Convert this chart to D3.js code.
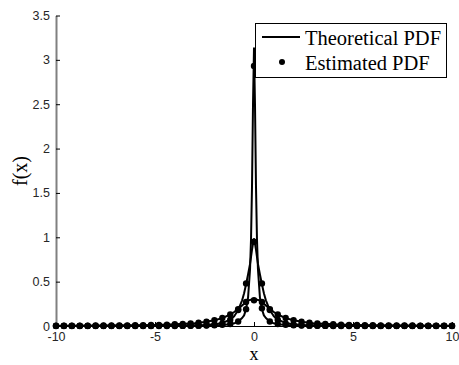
<!DOCTYPE html>
<meta charset="utf-8" />
<style>
  body { margin: 0; background: #fff; }
  .tick text { font: 12.5px "Liberation Sans", Arial, sans-serif; fill: #262626; }
  .lbl { font-family: "Liberation Serif", "Times New Roman", serif; }
</style>
<body>
<script src="https://d3js.org/d3.v7.min.js"></script>
<script>
  // theoretical curves, sampled densely near the centre
  var theoX = [-10, -8, -6, -5, -4, -3.5, -3, -2.5, -2, -1.6, -1.2, -1, -0.8, -0.6, -0.5, -0.4, -0.3, -0.2, -0.15, -0.1, -0.05,
    0, 0.05, 0.1, 0.15, 0.2, 0.3, 0.4, 0.5, 0.6, 0.8, 1, 1.2, 1.6, 2, 2.5, 3, 3.5, 4, 5, 6, 8, 10];
  var theoNarrow = [0.0003, 0.0005, 0.001, 0.001, 0.002, 0.003, 0.004, 0.005, 0.008, 0.012, 0.02, 0.03, 0.05, 0.09, 0.12, 0.19, 0.32, 0.64, 0.98, 1.58, 2.5,
    3.13, 2.5, 1.58, 0.98, 0.64, 0.32, 0.19, 0.12, 0.09, 0.05, 0.03, 0.02, 0.012, 0.008, 0.005, 0.004, 0.003, 0.002, 0.001, 0.001, 0.0005, 0.0003];
  var theoMid = [0.001, 0.001, 0.002, 0.003, 0.005, 0.006, 0.008, 0.012, 0.02, 0.035, 0.07, 0.11, 0.18, 0.29, 0.37, 0.47, 0.58, 0.7, 0.78, 0.86, 0.93,
    0.98, 0.93, 0.86, 0.78, 0.7, 0.58, 0.47, 0.37, 0.29, 0.18, 0.11, 0.07, 0.035, 0.02, 0.012, 0.008, 0.006, 0.005, 0.003, 0.002, 0.001, 0.001];
  var theoWide = [0.003, 0.005, 0.009, 0.012, 0.019, 0.024, 0.032, 0.044, 0.064, 0.089, 0.13, 0.158, 0.193, 0.232, 0.252, 0.27, 0.286, 0.294, 0.297, 0.299, 0.3,
    0.3, 0.3, 0.299, 0.297, 0.294, 0.286, 0.27, 0.252, 0.232, 0.193, 0.158, 0.13, 0.089, 0.064, 0.044, 0.032, 0.024, 0.019, 0.012, 0.009, 0.005, 0.003];

  // estimated pdf points, every 0.4
  var estX = [-10, -9.6, -9.2, -8.8, -8.4, -8, -7.6, -7.2, -6.8, -6.4, -6, -5.6, -5.2, -4.8, -4.4, -4, -3.6, -3.2, -2.8, -2.4, -2, -1.6, -1.2, -0.8, -0.4,
    0, 0.4, 0.8, 1.2, 1.6, 2, 2.4, 2.8, 3.2, 3.6, 4, 4.4, 4.8, 5.2, 5.6, 6, 6.4, 6.8, 7.2, 7.6, 8, 8.4, 8.8, 9.2, 9.6, 10];
  var estNarrow = [0.001, 0.001, 0.001, 0.001, 0.001, 0.001, 0.001, 0.001, 0.001, 0.001, 0.001, 0.001, 0.001, 0.002, 0.002, 0.002, 0.003, 0.003, 0.004, 0.006, 0.008, 0.013, 0.022, 0.05, 0.19,
    2.93, 0.2, 0.05, 0.022, 0.013, 0.008, 0.006, 0.004, 0.003, 0.003, 0.002, 0.002, 0.002, 0.001, 0.001, 0.001, 0.001, 0.001, 0.001, 0.001, 0.001, 0.001, 0.001, 0.001, 0.001, 0.001];
  var estMid = [0, 0, 0, 0, 0, 0, 0, 0, 0, 0, 0, 0, 0, 0, 0, 0, 0.001, 0.002, 0.004, 0.008, 0.015, 0.03, 0.07, 0.18, 0.48,
    0.95, 0.48, 0.18, 0.07, 0.03, 0.015, 0.008, 0.004, 0.002, 0.001, 0, 0, 0, 0, 0, 0, 0, 0, 0, 0, 0, 0, 0, 0, 0, 0];
  var estWide = [0.003, 0.003, 0.004, 0.004, 0.004, 0.005, 0.005, 0.006, 0.007, 0.007, 0.009, 0.01, 0.011, 0.013, 0.016, 0.019, 0.023, 0.028, 0.036, 0.048, 0.064, 0.09, 0.13, 0.19, 0.27,
    0.29, 0.27, 0.19, 0.13, 0.09, 0.064, 0.048, 0.036, 0.028, 0.023, 0.019, 0.016, 0.013, 0.011, 0.01, 0.009, 0.007, 0.007, 0.006, 0.005, 0.005, 0.004, 0.004, 0.004, 0.003, 0.003];

  var xTicks = [-10, -5, 0, 5, 10];
  var yTicks = [0, 0.5, 1, 1.5, 2, 2.5, 3, 3.5];
  var legendLabels = ["Theoretical PDF", "Estimated PDF"];

  var W = 459, H = 365;
  var x = d3.scaleLinear().domain([-10, 10]).range([56, 452]);
  var y = d3.scaleLinear().domain([0, 3.5]).range([326, 15.5]);

  var svg = d3.select("body").append("svg").attr("width", W).attr("height", H);

  // bottom axis: ticks pointing inward, plain hyphen for minus
  var gx = svg.append("g")
    .attr("transform", "translate(0," + y(0) + ")")
    .call(d3.axisBottom(x).tickValues(xTicks).tickSizeInner(-4).tickSizeOuter(0).tickPadding(6)
      .tickFormat(function (d) { return String(d); }));
  gx.select(".domain").attr("stroke", "#000").attr("stroke-width", 1);
  gx.selectAll(".tick line").attr("stroke", "#000");

  // left axis
  var gy = svg.append("g")
    .attr("transform", "translate(" + x(-10) + ",0)")
    .call(d3.axisLeft(y).tickValues(yTicks).tickSizeInner(-4).tickSizeOuter(0).tickPadding(6)
      .tickFormat(function (d) { return String(d); }));
  gy.select(".domain").attr("stroke", "#808080").attr("stroke-width", 2);
  gy.selectAll(".tick line").attr("stroke", "#000");

  // theoretical curves
  var line = d3.line()
    .x(function (d) { return x(d[0]); })
    .y(function (d) { return y(d[1]); });
  [theoWide, theoMid, theoNarrow].forEach(function (s) {
    svg.append("path")
      .datum(theoX.map(function (v, i) { return [v, s[i]]; }))
      .attr("fill", "none")
      .attr("stroke", "#000")
      .attr("stroke-width", 2)
      .attr("stroke-linejoin", "round")
      .attr("d", line);
  });

  // estimated points
  [estWide, estMid, estNarrow].forEach(function (s) {
    svg.append("g").selectAll("circle")
      .data(estX.map(function (v, i) { return [v, s[i]]; }))
      .enter()
      .append("circle")
      .attr("cx", function (d) { return x(d[0]); })
      .attr("cy", function (d) { return y(d[1]); })
      .attr("r", 3.2)
      .attr("fill", "#000");
  });

  // legend
  var lg = svg.append("g");
  lg.append("rect")
    .attr("x", 255.5).attr("y", 23.5).attr("width", 191).attr("height", 54)
    .attr("fill", "#fff").attr("stroke", "#000").attr("stroke-width", 1);
  lg.append("line")
    .attr("x1", 262).attr("x2", 300).attr("y1", 37).attr("y2", 37)
    .attr("stroke", "#000").attr("stroke-width", 2);
  lg.append("circle").attr("cx", 282).attr("cy", 62).attr("r", 3).attr("fill", "#000");
  lg.selectAll("text.leg")
    .data(legendLabels)
    .enter()
    .append("text")
    .attr("class", "lbl")
    .attr("x", 305)
    .attr("y", function (d, i) { return 45 + i * 25; })
    .style("font-size", "20.5px")
    .text(function (d) { return d; });

  // axis labels
  svg.append("text")
    .attr("class", "lbl")
    .attr("x", x(0)).attr("y", 360)
    .attr("text-anchor", "middle")
    .style("font-size", "18px")
    .text("x");
  svg.append("text")
    .attr("class", "lbl")
    .attr("transform", "translate(27,171) rotate(-90)")
    .attr("text-anchor", "middle")
    .style("font-size", "20px")
    .text("f(x)");
</script>
</body>
